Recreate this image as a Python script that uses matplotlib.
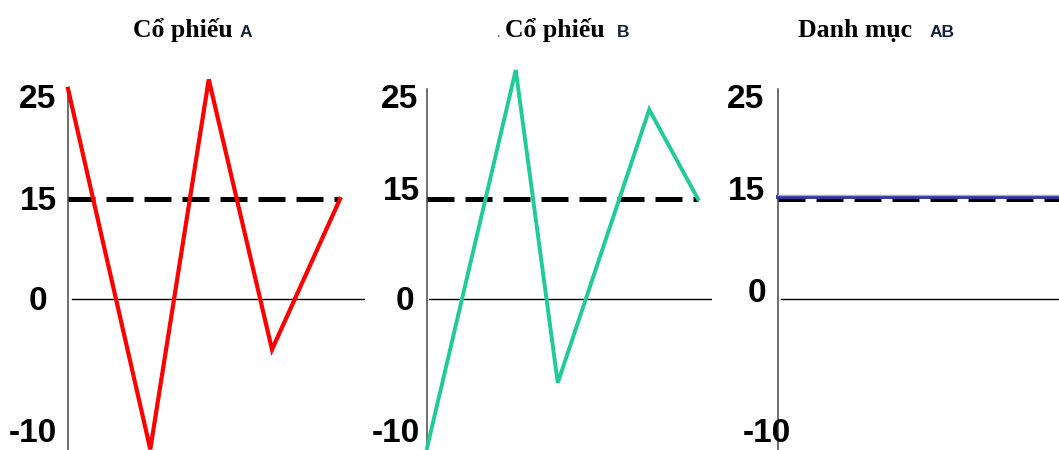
import numpy as np
import matplotlib.pyplot as plt
import matplotlib.transforms as mtransforms

# returns per period
t_a = [0, 1.21, 2.07, 3.0, 4.0]
ret_a = [25.6, -11.3, 26.5, -3.8, 15]
t_b = [0, 1.31, 1.93, 3.28, 4.0]
ret_b = [-11.2, 27.4, -6.3, 23.6, 15]
t_ab = [0, 4.2]
ret_ab = [15, 15]
mean_ret = 15

tick_vals = [25, 15, 0, -10]
tick_text = ['25', '15', '0', '-10']

# the drawn axis is not to scale: tick values and their heights in px
knot_vals = np.array([-10.0, 0.0, 15.0, 25.0])
knot_pos = np.array([18.0, 151.0, 251.0, 355.0])
lo_slope = (knot_pos[1] - knot_pos[0]) / (knot_vals[1] - knot_vals[0])
hi_slope = (knot_pos[-1] - knot_pos[-2]) / (knot_vals[-1] - knot_vals[-2])


def fwd(v):
    v = np.asarray(v, dtype=float)
    out = np.interp(v, knot_vals, knot_pos)
    out = np.where(v < knot_vals[0], knot_pos[0] + (v - knot_vals[0]) * lo_slope, out)
    out = np.where(v > knot_vals[-1], knot_pos[-1] + (v - knot_vals[-1]) * hi_slope, out)
    return out


def inv(p):
    p = np.asarray(p, dtype=float)
    out = np.interp(p, knot_pos, knot_vals)
    out = np.where(p < knot_pos[0], knot_vals[0] + (p - knot_pos[0]) / lo_slope, out)
    out = np.where(p > knot_pos[-1], knot_vals[-1] + (p - knot_pos[-1]) / hi_slope, out)
    return out


W, H = 1059, 450
fig = plt.figure(figsize=(W / 100, H / 100), dpi=100)
fig.patch.set_facecolor('white')

AX_H = 390


def make_ax(x0, x1, xmax):
    ax = fig.add_axes([x0 / W, 0, (x1 - x0) / W, AX_H / H])
    ax.set_yscale('function', functions=(fwd, inv))
    ax.set_ylim(float(inv(0)), float(inv(AX_H)))
    ax.set_xlim(0, xmax)
    ax.axis('off')
    return ax


def add_labels(ax, offsets):
    for v, s, (dx, dy) in zip(tick_vals, tick_text, offsets):
        ax.annotate(s, xy=(0, v), xycoords=('axes fraction', 'data'),
                    xytext=(dx, dy), textcoords='offset pixels',
                    ha='center', va='center', fontsize=24, fontweight='bold',
                    family='Liberation Sans', annotation_clip=False)


def add_spine(ax):
    ax.plot([0, 0], [0, (H - 89) / AX_H], transform=ax.transAxes,
            color='#555555', lw=1.2, clip_on=False)


dash_kw = dict(color='black', lw=3.6, dashes=(5.4, 2.2), solid_capstyle='butt',
               dash_capstyle='butt')

# Cổ phiếu A
ax1 = make_ax(68, 365, 297 / 68)
add_spine(ax1)
ax1.axhline(0, xmin=4 / 297, color='black', lw=1)
ax1.plot([0, t_a[-1]], [mean_ret, mean_ret], **dash_kw)
ax1.plot(t_a, ret_a, color='#ff0000', lw=3, clip_on=False, solid_joinstyle='miter')
add_labels(ax1, [(-30, -4), (-30, -3), (-30, -2), (-35, -1)])

# Cổ phiếu B
ax2 = make_ax(427, 712, 285 / 67.75)
add_spine(ax2)
ax2.axhline(0, xmin=2 / 285, color='black', lw=1)
ax2.plot([0, t_b[-1]], [mean_ret, mean_ret], **dash_kw)
ax2.plot(t_b, ret_b, color='#1fcb98', lw=2.8, clip_on=False, solid_joinstyle='miter')
add_labels(ax2, [(-27, -4), (-26, 8), (-22, -2), (-31, -1)])

# Danh mục AB
ax3 = make_ax(778, 1059, 4.2)
add_spine(ax3)
ax3.axhline(0, xmin=3 / 281, color='black', lw=1)
ax3.plot(t_ab, ret_ab, **dash_kw)
up = mtransforms.offset_copy(ax3.transData, fig=fig, x=0, y=1.8, units='dots')
ax3.plot(t_ab, ret_ab, color='#3434a0', lw=2.8, transform=up, clip_on=False)
edge = mtransforms.offset_copy(ax3.transData, fig=fig, x=0, y=4.0, units='dots')
ax3.plot(t_ab, ret_ab, color='#a4a4d4', lw=1.0, transform=edge, clip_on=False)
add_labels(ax3, [(-32, -4), (-32, 8), (-21, 6), (-11, -1)])


def title(x_serif, text, x_sans, code, x_dot=None):
    y = (H - 37) / H
    fig.text(x_serif / W, y, text, family='Liberation Serif', fontweight='bold',
             fontsize=18.5, va='baseline', ha='left')
    fig.text(x_sans / W, y, code, family='Liberation Sans', fontweight='bold',
             fontsize=12.5, va='baseline', ha='left', color='#14213d')
    if x_dot is not None:
        fig.text(x_dot / W, y, '.', family='Liberation Serif', fontsize=10,
                 va='baseline', ha='left', color='#444444')


title(133, 'Cổ phiếu', 240, 'A')
title(505, 'Cổ phiếu', 617, 'B', x_dot=496)
title(798, 'Danh mục', 930, 'AB')

fig.savefig('out.png', dpi=100)
